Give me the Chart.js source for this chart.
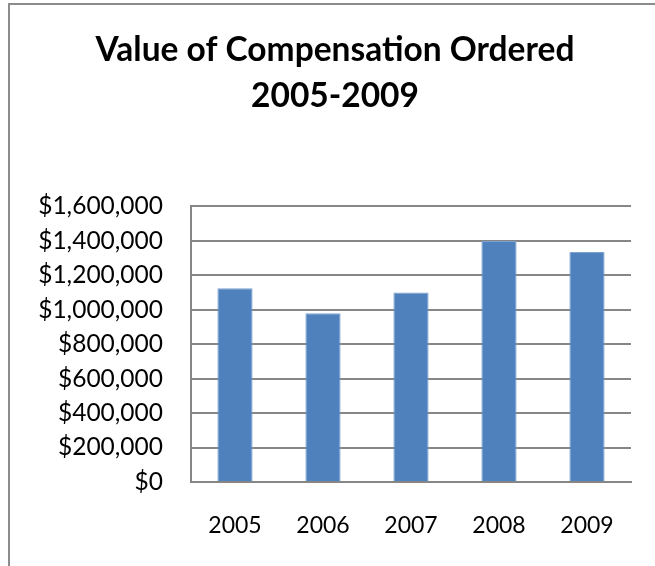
<!DOCTYPE html>
<html>
<head>
<meta charset="utf-8">
<script src="https://cdn.jsdelivr.net/npm/chart.js@4.4.1/dist/chart.umd.min.js"></script>
<style>
  html, body { margin: 0; padding: 0; background: #fff; }
  #wrap { width: 655px; height: 566px; position: relative; }
</style>
</head>
<body>
<div id="wrap"><canvas id="grafico" width="655" height="566"></canvas></div>
<script>
// dados
const anos = ['2005', '2006', '2007', '2008', '2009'];
const valores = [1125000, 980000, 1100000, 1400000, 1335000];
const tituloLinhas = ['Value of Compensation Ordered', '2005-2009'];
const eixoMin = 0;
const eixoMax = 1600000;
const eixoPasso = 200000;

const fonte = 'Lato, "Open Sans", sans-serif';

// borda externa do quadro (esquerda e topo, como no original)
const bordaQuadro = {
    id: 'bordaQuadro',
    beforeDraw(chart) {
        const c = chart.ctx;
        c.save();
        c.strokeStyle = '#8c8c8c';
        c.lineWidth = 2;
        c.beginPath();
        c.moveTo(9, 566);
        c.lineTo(9, 4);
        c.lineTo(655, 4);
        c.stroke();
        c.restore();
    }
};

const ctx = document.getElementById('grafico').getContext('2d');

const meuGrafico = new Chart(ctx, {
    type: 'bar',
    data: {
        labels: anos,
        datasets: [{
            data: valores,
            backgroundColor: '#4f81bd',
            borderColor: '#7da2d0',
            borderWidth: 1,
            barPercentage: 0.4,
            categoryPercentage: 1
        }]
    },
    options: {
        responsive: false,
        animation: false,
        layout: { padding: { left: 39, right: 24, top: 0, bottom: 0 } },
        plugins: {
            legend: { display: false },
            tooltip: { enabled: false },
            title: {
                display: true,
                text: tituloLinhas,
                color: '#000',
                font: { family: fonte, size: 33.5, weight: 'bold', lineHeight: 1.38 },
                padding: { top: 27, bottom: 87 }
            }
        },
        scales: {
            x: {
                grid: { display: false, drawTicks: false },
                border: { display: true, color: '#868686', width: 2 },
                ticks: { color: '#000', font: { family: fonte, size: 23 }, padding: 30 },
                afterFit(scale) { scale.height = 84; }
            },
            y: {
                min: eixoMin,
                max: eixoMax,
                grid: { color: '#868686', lineWidth: 2, drawTicks: false },
                border: { display: true, color: '#868686', width: 2 },
                ticks: {
                    stepSize: eixoPasso,
                    color: '#000',
                    font: { family: fonte, size: 24.5 },
                    padding: 28,
                    callback: v => '$' + v.toLocaleString('en-US')
                },
                afterFit(scale) { scale.width = 152; }
            }
        }
    },
    plugins: [bordaQuadro]
});
</script>
</body>
</html>
